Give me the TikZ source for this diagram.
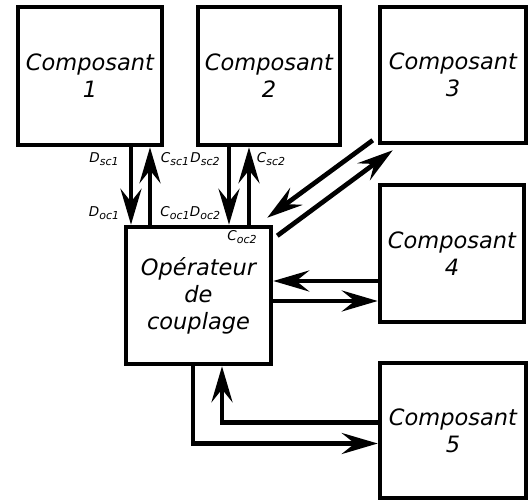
\documentclass[tikz,border=0pt]{standalone}
\usepackage{fontspec}
\setmainfont{DejaVu Sans}
\usetikzlibrary{arrows.meta,calc}
\newcommand\lblsub[2]{#1\raisebox{-3pt}{\fontsize{11}{12}\selectfont #2}}
\tikzset{
 boxnode/.style={draw,line width=4.5pt,inner sep=0pt,align=center,font=\fontsize{22.5}{27}\selectfont\itshape},
 conn/.style={line width=4.7pt,-{Stealth[length=36pt,width=21pt,inset=13pt]}},
 lbl/.style={inner sep=0pt,font=\fontsize{13.5}{15}\selectfont\itshape}
}
\begin{document}
\begin{tikzpicture}[x=1pt,y=-1pt]
\useasboundingbox (0,0) rectangle (530,502);
\node[boxnode,minimum width=144pt,minimum height=138pt] (c1) at (90,76) {Composant\\1};
\node[boxnode,minimum width=142pt,minimum height=138pt] (c2) at (269,76) {Composant\\2};
\node[boxnode,minimum width=146pt,minimum height=136pt] (c3) at (453,75) {Composant\\3};
\node[boxnode,minimum width=144pt,minimum height=137pt] (c4) at (452,253.5) {Composant\\4};
\node[boxnode,minimum width=146pt,minimum height=135pt] (c5) at (453,430.5) {Composant\\5};
\node[boxnode,minimum width=145pt,minimum height=137pt] (op) at (198.5,295.5) {Opérateur\\de\\couplage};
% component 1
\coordinate (d1) at ($(c1.south)+(41,0)$);
\coordinate (u1) at ($(c1.south)+(60,0)$);
\draw[conn] (d1) -- (d1 |- op.north);
\draw[conn] (u1 |- op.north) -- (u1);
% component 2
\coordinate (d2) at ($(c2.south)+(-40,0)$);
\coordinate (u2) at ($(c2.south)+(-20,0)$);
\draw[conn] (d2) -- (d2 |- op.north);
\draw[conn] (u2 |- op.north) -- (u2);
% component 3
\draw[conn] ($(c3.south west)+(-5,-5)$) -- ($(op.north east)+(-6,-7)$);
\draw[conn] ($(op.north east)+(4,11)$) -- ($(c3.south west)+(15,5)$);
% component 4
\coordinate (a4) at ($(c4.west)+(0,27.5)$);
\coordinate (b4) at ($(c4.west)+(0,47.5)$);
\draw[conn] (a4) -- (a4 -| op.east);
\draw[conn] (b4 -| op.east) -- (b4);
% component 5
\coordinate (a5) at ($(c5.west)+(0,-8)$);
\coordinate (v5) at ($(op.south)+(23.5,0)$);
\draw[conn] (a5) -- (a5 -| v5) -- (v5);
\coordinate (w5) at ($(op.south)+(-5.5,0)$);
\coordinate (b5) at ($(c5.west)+(0,13)$);
\draw[conn] (w5) -- (w5 |- b5) -- (b5);
% labels
\node[lbl] (ldsc1) at (104,159) {\lblsub{D}{sc1}};
\node[lbl] (lcsc1) at (175,159) {\lblsub{C}{sc1}};
\node[lbl] (ldsc2) at (205,159) {\lblsub{D}{sc2}};
\node[lbl] (lcsc2) at (271,159) {\lblsub{C}{sc2}};
\node[lbl] (ldoc1) at (104,213) {\lblsub{D}{oc1}};
\node[lbl] (lcoc1) at (175,213) {\lblsub{C}{oc1}};
\node[lbl] (ldoc2) at (205,213) {\lblsub{D}{oc2}};
\node[lbl] (lcoc2) at (242,237) {\lblsub{C}{oc2}};
\end{tikzpicture}
\end{document}
